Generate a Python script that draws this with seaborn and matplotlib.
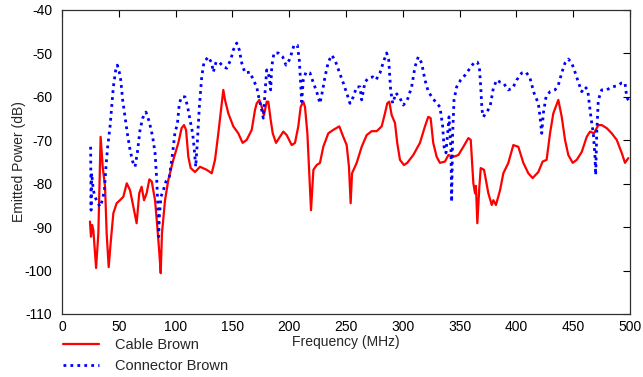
import numpy as np
import pandas as pd
import matplotlib
matplotlib.use("Agg")
import matplotlib.pyplot as plt
import seaborn as sns

# Cable Brown (red, solid)
cable_freq = [24.6, 25.5, 26.5, 27.6, 30.0, 32.0, 34.0, 35.8, 37.9, 39.3, 41.1, 42.8, 45.2, 48.1,
              51.0, 54.0, 57.0, 59.9, 62.8, 65.7, 68.0, 70.1, 72.2, 74.5, 76.9, 79.0, 81.9, 83.9,
              85.7, 86.9, 88.0, 90.7, 93.6, 98.0, 102.4, 105.3, 107.4, 109.2, 111.2, 113.3, 117.1,
              121.5, 127.4, 131.8, 134.7, 137.6, 140.6, 142.0, 143.5, 146.4, 150.8, 155.2, 159.0,
              162.6, 167.0, 169.9, 171.4, 173.7, 175.8, 177.8, 180.2, 181.6, 183.7, 185.5, 188.4,
              191.9, 194.8, 197.8, 202.2, 205.1, 208.0, 210.1, 212.4, 213.9, 216.0, 217.7, 219.2,
              221.3, 224.2, 227.1, 230.0, 234.4, 238.8, 244.1, 247.6, 250.6, 252.6, 254.1, 255.3,
              259.4, 263.8, 268.2, 272.6, 277.0, 281.4, 284.3, 286.3, 288.1, 290.2, 293.1, 295.1,
              297.5, 301.0, 303.9, 309.2, 315.1, 319.5, 322.4, 324.5, 326.8, 329.8, 332.7, 337.1,
              340.1, 344.5, 348.9, 353.3, 357.7, 359.8, 362.1, 363.6, 364.4, 365.6, 367.4, 368.6,
              371.5, 375.3, 378.3, 379.7, 382.0, 385.6, 388.5, 392.9, 397.3, 401.7, 406.1, 410.5,
              414.3, 419.3, 423.1, 426.6, 429.6, 432.5, 436.9, 439.9, 442.8, 445.7, 449.6, 453.1,
              457.5, 461.9, 464.8, 468.3, 472.1, 475.1, 479.5, 483.9, 488.3, 492.7, 495.6, 498.5]
cable_db = [-88.7, -92.2, -89.5, -90.7, -99.4, -91.4, -69.2, -76.0, -80.7, -91.4, -99.2, -93.7,
            -86.8, -84.5, -83.8, -83.0, -79.9, -81.5, -85.3, -89.1, -82.2, -80.7, -83.8, -82.2,
            -79.0, -79.5, -83.8, -89.9, -96.0, -100.6, -91.4, -83.8, -79.1, -74.5, -70.6, -67.2,
            -66.5, -67.6, -73.8, -76.4, -77.3, -76.1, -76.8, -77.6, -74.5, -68.4, -61.5, -58.4,
            -60.7, -63.8, -66.8, -68.4, -70.6, -69.9, -67.6, -63.0, -61.5, -60.7, -62.3, -64.2,
            -61.1, -61.1, -65.3, -68.4, -70.6, -69.2, -68.0, -68.8, -71.1, -70.6, -66.8, -62.3,
            -61.1, -62.3, -68.4, -77.6, -86.1, -76.8, -75.7, -75.2, -71.5, -68.4, -67.6, -66.8,
            -69.2, -71.1, -76.1, -84.5, -77.6, -75.2, -71.5, -68.8, -67.9, -67.9, -66.8, -63.8,
            -61.5, -61.1, -64.2, -66.0, -70.6, -74.5, -75.7, -75.2, -73.4, -70.6, -66.8, -64.6,
            -64.9, -70.6, -73.8, -75.2, -74.9, -73.4, -73.8, -73.4, -71.5, -69.5, -69.9, -79.9,
            -82.2, -80.5, -89.1, -80.7, -76.4, -76.8, -82.2, -84.9, -83.8, -84.9, -81.5, -77.6,
            -75.2, -71.1, -71.5, -75.2, -77.6, -78.7, -77.3, -74.9, -74.5, -68.4, -63.8, -60.7,
            -64.6, -69.9, -73.4, -75.2, -74.5, -72.7, -69.2, -68.0, -68.4, -66.5, -66.5, -67.2,
            -68.4, -69.9, -72.9, -75.2, -74.1]

# Connector Brown (blue, dotted)
conn_freq = [25.2, 25.6, 26.1, 27.6, 29.0, 31.1, 33.5, 35.5, 37.3, 38.7, 40.2, 42.3, 43.7, 45.2,
             47.3, 48.7, 50.4, 51.7, 53.4, 55.5, 57.5, 59.9, 62.2, 64.3, 66.3, 68.7, 71.0, 73.9,
             76.9, 79.8, 81.9, 83.4, 84.2, 85.1, 85.7, 87.1, 89.2, 91.5, 94.5, 97.4, 99.5, 101.5,
             103.3, 105.3, 108.3, 110.6, 112.7, 115.0, 116.5, 117.7, 119.1, 120.9, 123.0, 125.0,
             128.8, 131.8, 133.2, 135.6, 138.5, 142.0, 145.0, 148.5, 150.8, 153.8, 156.1, 158.2,
             161.1, 165.5, 168.4, 171.4, 173.7, 175.8, 177.2, 178.7, 180.2, 182.5, 183.7, 184.6,
             186.6, 190.4, 194.3, 197.2, 200.1, 202.2, 204.2, 207.2, 208.9, 210.1, 211.0, 212.4,
             214.8, 218.3, 221.3, 224.2, 227.1, 229.5, 231.5, 234.4, 237.4, 240.3, 244.1, 247.6,
             251.2, 253.5, 256.4, 259.4, 262.3, 263.8, 266.7, 269.6, 273.5, 276.4, 279.9, 282.9,
             285.8, 287.6, 289.3, 291.1, 294.0, 297.5, 300.5, 304.0, 307.8, 310.7, 313.6, 316.6,
             319.5, 322.4, 326.3, 329.8, 332.7, 335.1, 336.3, 338.0, 339.5, 340.7, 342.4, 343.0,
             343.9, 345.1, 347.4, 351.0, 354.8, 359.2, 363.0, 365.6, 367.4, 368.6, 369.7, 370.9,
             373.9, 376.8, 379.7, 382.7, 385.6, 388.5, 392.9, 396.7, 400.3, 404.7, 408.5, 412.0,
             415.5, 419.3, 420.8, 422.3, 423.7, 426.1, 429.6, 434.0, 436.9, 439.9, 442.8, 445.7,
             448.7, 451.6, 454.5, 457.5, 460.4, 462.8, 464.8, 466.3, 467.7, 469.2, 469.8, 470.7,
             472.1, 475.1, 479.5, 483.9, 488.3, 492.7, 495.6, 497.1, 499.1]
conn_db = [-71.5, -86.1, -77.6, -81.5, -83.0, -84.2, -85.3, -83.8, -81.5, -76.1, -71.5, -66.8,
           -62.3, -57.7, -53.8, -52.7, -54.3, -56.1, -60.7, -64.6, -68.4, -72.2, -74.9, -76.1,
           -72.9, -67.6, -64.9, -63.5, -65.8, -69.2, -72.9, -79.1, -83.8, -92.2, -87.6, -83.0,
           -81.5, -79.5, -78.4, -72.9, -68.0, -66.5, -61.5, -60.0, -60.0, -62.3, -65.3, -68.4,
           -72.2, -76.1, -70.6, -62.3, -55.4, -52.0, -50.8, -52.2, -54.3, -52.0, -52.0, -53.1,
           -53.4, -51.5, -49.2, -47.6, -49.2, -52.2, -54.5, -54.3, -56.1, -57.7, -60.7, -63.0,
           -64.9, -59.1, -53.8, -55.4, -58.4, -53.1, -49.9, -49.9, -50.8, -52.7, -51.5, -49.9,
           -48.1, -48.1, -51.5, -56.8, -61.1, -56.1, -54.3, -54.5, -56.8, -58.8, -61.5, -58.4,
           -55.4, -52.0, -50.4, -51.5, -54.3, -56.8, -59.6, -61.5, -60.0, -57.7, -57.7, -60.7,
           -56.6, -55.7, -55.4, -56.1, -54.5, -52.0, -49.9, -51.5, -58.4, -61.5, -59.1, -60.3,
           -61.9, -60.7, -57.7, -53.1, -50.8, -52.2, -56.1, -58.8, -60.3, -61.5, -62.3, -66.8,
           -71.5, -72.9, -68.4, -64.6, -72.2, -84.2, -68.4, -60.7, -57.7, -56.1, -55.0, -53.4,
           -52.0, -52.0, -53.1, -57.7, -63.0, -64.6, -63.5, -62.3, -58.0, -56.1, -56.6, -56.8,
           -58.4, -58.0, -56.1, -54.5, -54.3, -55.7, -59.1, -61.5, -64.6, -68.4, -63.8, -60.0,
           -58.8, -58.4, -57.3, -54.5, -52.2, -51.3, -52.2, -54.3, -56.6, -58.8, -57.7, -58.4,
           -63.0, -66.0, -68.4, -73.8, -78.0, -68.4, -60.7, -58.4, -58.4, -57.7, -57.5, -56.8,
           -56.8, -60.0, -61.1]

x_ticks = [0, 50, 100, 150, 200, 250, 300, 350, 400, 450, 500]
y_ticks = [-110, -100, -90, -80, -70, -60, -50, -40]

sns.set_style("white")
plt.rcParams["font.family"] = ["Liberation Sans", "DejaVu Sans"]

fig = plt.figure(figsize=(6.43, 3.77), dpi=100)
ax = fig.add_axes([62 / 643, 1 - 314 / 377, (630 - 62) / 643, (314 - 10) / 377])

df_cable = pd.DataFrame({"f": cable_freq, "p": cable_db})
df_conn = pd.DataFrame({"f": conn_freq, "p": conn_db})

sns.lineplot(data=df_cable, x="f", y="p", ax=ax, color="#ff0000", linewidth=1.6,
             label="Cable Brown", sort=False, estimator=None)
sns.lineplot(data=df_conn, x="f", y="p", ax=ax, color="#0000ff", linewidth=2.0,
             linestyle=(0, (1, 1.5)), label="Connector Brown", sort=False, estimator=None)

ax.set_xlim(0, 500)
ax.set_ylim(-110, -40)
ax.set_xticks(x_ticks)
ax.set_yticks(y_ticks)
ax.set_xticklabels([str(t) for t in x_ticks])
ax.set_yticklabels([str(t) for t in y_ticks])
ax.tick_params(direction="in", top=True, right=True, length=5, width=0.8,
               labelsize=10, colors="black")
ax.tick_params(axis="y", pad=7)
ax.tick_params(axis="x", pad=4)
for s in ax.spines.values():
    s.set_color("#303030")
    s.set_linewidth(0.9)
ax.set_xlabel("Frequency (MHz)", fontsize=10, labelpad=1)
ax.set_ylabel("Emitted Power (dB)", fontsize=10, labelpad=-1)

ax.get_legend().remove()
handles, labels = ax.get_legend_handles_labels()
fig.legend(handles, labels, loc="lower left", bbox_to_anchor=(63 / 643, 4 / 377),
           frameon=False, fontsize=10.5, handlelength=2.5, handletextpad=1.05,
           labelspacing=0.5, borderpad=0, borderaxespad=0)

fig.savefig("out.png", dpi=100)
